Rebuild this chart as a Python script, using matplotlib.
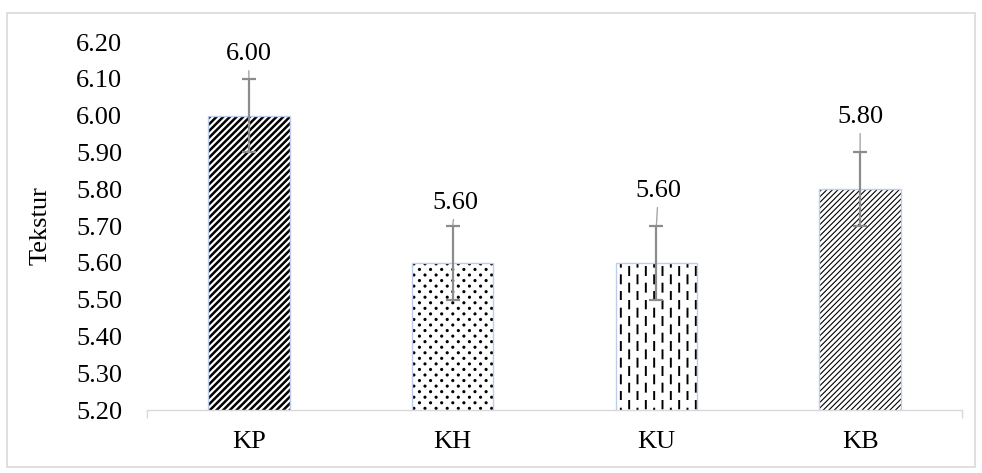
import matplotlib
matplotlib.use("Agg")
import matplotlib.pyplot as plt
import matplotlib.hatch as mhatch
from matplotlib.path import Path
from matplotlib.patches import Rectangle
import numpy as np

# data
groups = ["KP", "KH", "KU", "KB"]
tekstur = [6.00, 5.60, 5.60, 5.80]
sd = [0.10, 0.10, 0.10, 0.10]
value_labels = ["6.00", "5.60", "5.60", "5.80"]

# style per bar
hatches = ["/////", "...", "||", "//////"]
hatch_lw = [1.8, 1.1, 1.4, 0.8]
label_offset = [(0.0, 0.167), (0.015, 0.1625), (0.01, 0.195), (0.0, 0.196)]


class DashHatch(mhatch.HatchPatternBase):
    # short staggered vertical dashes instead of full lines for '|'
    def __init__(self, hatch, density):
        self.num_cols = hatch.count('|') * density
        self.num_rows = density
        self.num_vertices = self.num_cols * self.num_rows * 2

    def set_vertices_and_codes(self, vertices, codes):
        sx = 1.0 / self.num_cols
        sy = 1.0 / self.num_rows
        dash = 0.48 * sy
        i = 0
        for c in range(self.num_cols):
            x = (c + 0.5) * sx
            shift = 0.5 * sy * (c % 2)
            for r in range(self.num_rows):
                y0 = r * sy + shift
                vertices[i] = (x, y0)
                vertices[i + 1] = (x, y0 + dash)
                codes[i] = Path.MOVETO
                codes[i + 1] = Path.LINETO
                i += 2


class DotHatch(mhatch.HatchPatternBase):
    # staggered dots, rows closer than dots within a row (like the Word pattern)
    def __init__(self, hatch, density):
        self.num_rows = hatch.count('.') * density
        self.per_row = self.num_rows // 2
        circ = Path.unit_circle()
        self.shape_vertices = circ.vertices
        self.shape_codes = circ.codes
        self.num_vertices = self.num_rows * self.per_row * len(circ.vertices)

    def set_vertices_and_codes(self, vertices, codes):
        sy = 1.0 / self.num_rows
        sx = 2 * sy
        r = 0.008
        n = len(self.shape_vertices)
        i = 0
        for row in range(self.num_rows):
            for c in range(self.per_row):
                cx = c * sx + (row % 2) * sy + sy / 2
                cy = row * sy + sy / 2
                vertices[i:i + n] = self.shape_vertices * r + (cx, cy)
                codes[i:i + n] = self.shape_codes
                i += n


swap = {mhatch.VerticalHatch: DashHatch, mhatch.SmallFilledCircles: DotHatch}
mhatch._hatch_types = [swap.get(t, t) for t in mhatch._hatch_types]

plt.rcParams['font.family'] = ['Liberation Serif', 'DejaVu Serif']
fs = 19

fig = plt.figure(figsize=(9.82, 4.73), dpi=100)
ax = fig.add_axes([147 / 982, 1 - 410 / 473, (962 - 147) / 982, (410 - 42) / 473])

x = np.arange(len(groups))
for i in range(len(groups)):
    with plt.rc_context({'hatch.linewidth': hatch_lw[i]}):
        b = ax.bar(x[i], tekstur[i], width=0.40, color='white', edgecolor='black',
                   linewidth=0, hatch=hatches[i], zorder=2)
        for p in b:
            if hasattr(p, 'set_hatch_linewidth'):
                p.set_hatch_linewidth(hatch_lw[i])
ax.bar(x, tekstur, width=0.40, fill=False, edgecolor='#BDCDEB', linewidth=1.0, zorder=3)

ax.errorbar(x, tekstur, yerr=sd, fmt='none', ecolor='#8C8C8C', elinewidth=1.6,
            capsize=5, capthick=1.6, zorder=4)

for i in range(len(groups)):
    dx, dy = label_offset[i]
    ax.annotate(value_labels[i], xy=(x[i], tekstur[i] + sd[i]),
                xytext=(x[i] + dx, tekstur[i] + dy), ha='center', va='center',
                fontsize=fs, color='black',
                arrowprops=dict(arrowstyle='-', color='#A6A6A6', lw=1.0,
                                shrinkA=2, shrinkB=0))

ax.set_ylim(5.20, 6.20)
ax.set_xlim(-0.5, 3.5)
ax.set_yticks(np.arange(5.20, 6.21, 0.10))
ax.set_yticklabels([f"{v:.2f}" for v in np.arange(5.20, 6.21, 0.10)], fontsize=fs)
ax.set_xticks(x)
ax.set_xticklabels(groups, fontsize=fs)
ax.tick_params(axis='y', length=0, pad=18)
ax.tick_params(axis='x', which='major', length=0, pad=15)
ax.set_xticks([-0.5, 3.5], minor=True)
ax.tick_params(axis='x', which='minor', length=6, color='#D9D9D9', width=1)
for s in ['top', 'right', 'left']:
    ax.spines[s].set_visible(False)
ax.spines['bottom'].set_color('#D9D9D9')
ax.spines['bottom'].set_linewidth(1.0)
ax.set_ylabel("Tekstur", fontsize=fs)
ax.yaxis.set_label_coords(-(147 - 52) / 815, 0.5)

# outer chart border
fig.patches.append(Rectangle((7 / 982, 1 - 467 / 473), (975 - 7) / 982, (467 - 13) / 473,
                             transform=fig.transFigure, fill=False,
                             edgecolor='#D9D9D9', linewidth=1.2))

fig.savefig("out.png", dpi=100)
